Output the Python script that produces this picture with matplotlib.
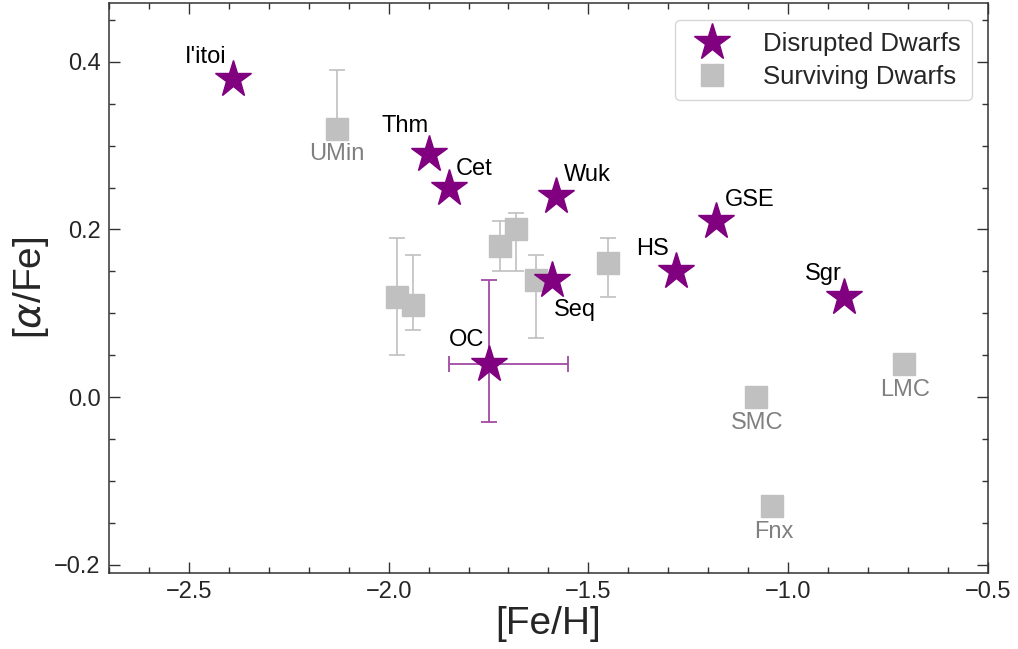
import matplotlib
matplotlib.use("Agg")
import matplotlib.pyplot as plt
from matplotlib.ticker import MultipleLocator

plt.rcParams['font.family'] = ['Liberation Sans', 'DejaVu Sans']

# Disrupted dwarfs
dis_names = ["I'itoi", "Thm", "Cet", "Wuk", "GSE", "HS", "Sgr", "Seq", "OC"]
dis_feh = [-2.39, -1.90, -1.85, -1.58, -1.18, -1.28, -0.86, -1.59, -1.75]
dis_afe = [0.38, 0.29, 0.25, 0.24, 0.21, 0.15, 0.12, 0.14, 0.04]
dis_off = [(-27, 22), (-24, 28), (26, 19), (31, 21), (33, 21), (-24, 22), (-21, 23), (22, -30), (-22, 24)]

# OC error bars
oc_feh = -1.75
oc_afe = 0.04
oc_xerr = [[0.10], [0.20]]
oc_yerr = [[0.07], [0.10]]

# Surviving dwarfs with error bars
sur_feh = [-2.13, -1.98, -1.94, -1.72, -1.68, -1.63, -1.45]
sur_afe = [0.32, 0.12, 0.11, 0.18, 0.20, 0.14, 0.16]
sur_lo = [0.00, 0.07, 0.03, 0.03, 0.05, 0.07, 0.04]
sur_hi = [0.07, 0.07, 0.06, 0.03, 0.02, 0.03, 0.03]
sur_names = ["UMin", "", "", "", "", "", ""]

# Surviving dwarfs without error bars
mc_names = ["SMC", "LMC", "Fnx"]
mc_feh = [-1.08, -0.71, -1.04]
mc_afe = [0.00, 0.04, -0.13]

purple = "#800080"
gray = "#c0c0c0"

fig = plt.figure(figsize=(10.18, 6.49), dpi=100)
ax = fig.add_axes([0.107, 0.117, 0.8635, 0.878])

ax.errorbar(sur_feh, sur_afe, yerr=[sur_lo, sur_hi], fmt='none', ecolor=gray,
            elinewidth=1.2, capsize=6, capthick=1.2, zorder=1)
ax.plot(sur_feh, sur_afe, 's', color=gray, markersize=16, zorder=2, linestyle='none')
ax.plot(mc_feh, mc_afe, 's', color=gray, markersize=16, zorder=2, linestyle='none',
        label='Surviving Dwarfs')

ax.errorbar([oc_feh], [oc_afe], xerr=oc_xerr, yerr=oc_yerr, fmt='none',
            ecolor="#a24aa2", elinewidth=1.3, capsize=6, capthick=1.3, zorder=3)
ax.plot(dis_feh, dis_afe, '*', color=purple, markersize=28, zorder=4,
        linestyle='none', label='Disrupted Dwarfs')

for n, x, y, (dx, dy) in zip(dis_names, dis_feh, dis_afe, dis_off):
    ax.annotate(n, (x, y), xytext=(dx * 0.72, dy * 0.72), textcoords='offset points',
                ha='center', va='center', fontsize=17, color='black', zorder=5)

for n, x, y in zip(sur_names, sur_feh, sur_afe):
    if n:
        ax.annotate(n, (x, y), xytext=(0, -25 * 0.72), textcoords='offset points',
                    ha='center', va='center', fontsize=17, color='#808080')
for n, x, y in zip(mc_names, mc_feh, mc_afe):
    ax.annotate(n, (x, y), xytext=(1, -26 * 0.72), textcoords='offset points',
                ha='center', va='center', fontsize=17, color='#808080')

ax.set_xlim(-2.7, -0.5)
ax.set_ylim(-0.21, 0.47)
ax.xaxis.set_major_locator(MultipleLocator(0.5))
ax.xaxis.set_minor_locator(MultipleLocator(0.1))
ax.yaxis.set_major_locator(MultipleLocator(0.2))
ax.yaxis.set_minor_locator(MultipleLocator(0.05))
ax.tick_params(which='both', direction='in', top=True, right=True, colors='#333333',
               labelcolor='#262626', labelsize=17)
ax.tick_params(which='major', length=8, width=1, pad=6)
ax.tick_params(which='minor', length=4, width=1)
for s in ax.spines.values():
    s.set_color('#333333')
    s.set_linewidth(1.1)

ax.set_xlabel('[Fe/H]', fontsize=28, color='#262626', labelpad=2)
ax.set_ylabel(r'[$\alpha$/Fe]', fontsize=28, color='#262626', labelpad=2)

handles, labels = ax.get_legend_handles_labels()
order = [1, 0]
leg = ax.legend([handles[i] for i in order], [labels[i] for i in order],
                loc='upper right', fontsize=18.5, frameon=True, fancybox=True,
                borderpad=0.45, handletextpad=1.0, labelspacing=0.35,
                bbox_to_anchor=(0.997, 0.993))
leg.get_frame().set_edgecolor('#cccccc')
for t in leg.get_texts():
    t.set_color('#262626')

fig.savefig('out.png', dpi=100)
